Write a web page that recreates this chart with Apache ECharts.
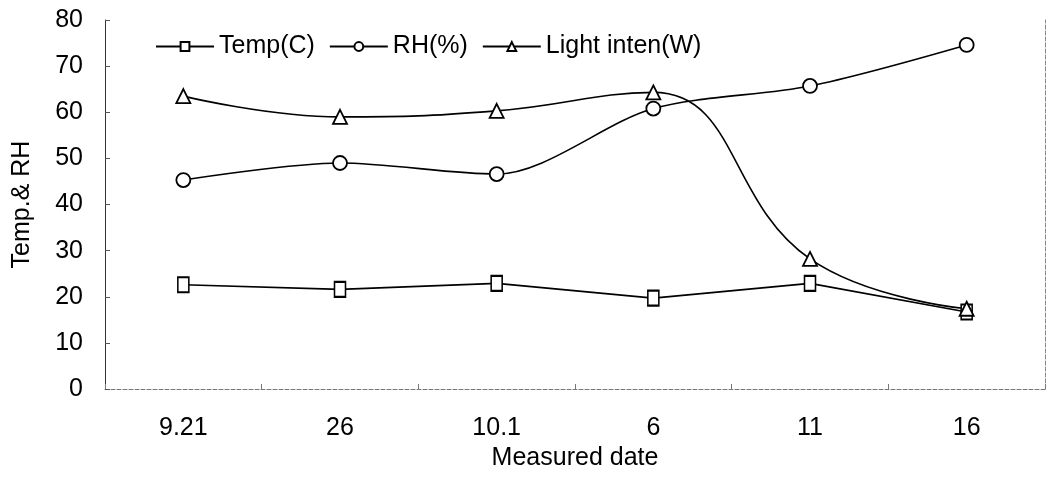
<!DOCTYPE html>
<html><head><meta charset="utf-8">
<script src="https://cdn.jsdelivr.net/npm/echarts@6/dist/echarts.min.js"></script>
<style>html,body{margin:0;padding:0;background:#fff}#c{width:1049px;height:477px}</style>
</head><body><div id="c"></div>
<script>
const categories = ['9.21', '26', '10.1', '6', '11', '16'];
const tempC = [22.6, 21.6, 22.9, 19.7, 22.9, 16.7];
const rhPct = [45.3, 49.0, 46.6, 60.8, 65.7, 74.6];
const lightW = [63.5, 59.0, 60.3, 64.3, 28.2, 17.4];
const yTicks = { min: 0, max: 80, interval: 10 };

const font = 'Liberation Sans, Arial, sans-serif';
const chart = echarts.init(document.getElementById('c'));
function ser(name, data, symbol, size, smooth) {
  return {
    name, type: 'line', data, symbol, symbolSize: size, smooth,
    lineStyle: { color: '#000', width: 1.6 },
    itemStyle: { color: '#fff', borderColor: '#000', borderWidth: 1.8 },
    emphasis: { disabled: true }
  };
}
chart.setOption({
  animation: false,
  backgroundColor: '#fff',
  textStyle: { fontFamily: font },
  grid: { left: 105, right: 4, top: 20, bottom: 88 },
  legend: {
    left: 150, top: 29, itemGap: 14, itemWidth: 58, itemHeight: 11,
    textStyle: { fontSize: 25, color: '#000', fontFamily: font },
    data: ['Temp(C)', 'RH(%)', 'Light inten(W)']
  },
  xAxis: {
    type: 'category', data: categories, boundaryGap: true,
    name: 'Measured date', nameLocation: 'middle', nameGap: 46,
    nameTextStyle: { fontSize: 25, color: '#000', fontFamily: font },
    axisLine: { lineStyle: { color: '#777', type: 'dashed', width: 1 } },
    axisTick: { show: true, inside: true, length: 5, lineStyle: { color: '#777' } },
    axisLabel: { fontSize: 25, color: '#000', margin: 27, fontFamily: font }
  },
  yAxis: [{
    type: 'value', min: yTicks.min, max: yTicks.max, interval: yTicks.interval,
    name: 'Temp.& RH', nameLocation: 'middle', nameGap: 70, nameRotate: 90,
    nameTextStyle: { fontSize: 25, color: '#000', fontFamily: font },
    axisLine: { show: true, lineStyle: { color: '#333', width: 1 } },
    axisTick: { show: true, inside: true, length: 5, lineStyle: { color: '#555' } },
    axisLabel: { fontSize: 25, color: '#000', margin: 22, fontFamily: font },
    splitLine: { show: false }
  }, {
    type: 'value', min: yTicks.min, max: yTicks.max, interval: yTicks.interval, position: 'right',
    axisLine: { show: true, lineStyle: { color: '#888', type: 'dashed', width: 1 } },
    axisTick: { show: false }, axisLabel: { show: false }, splitLine: { show: false }
  }],
  series: [
    ser('Temp(C)', tempC, 'rect', [11, 15], false),
    ser('RH(%)', rhPct, 'circle', 14, 0.3),
    ser('Light inten(W)', lightW, 'triangle', 14, 0.45)
  ]
});
</script></body></html>
